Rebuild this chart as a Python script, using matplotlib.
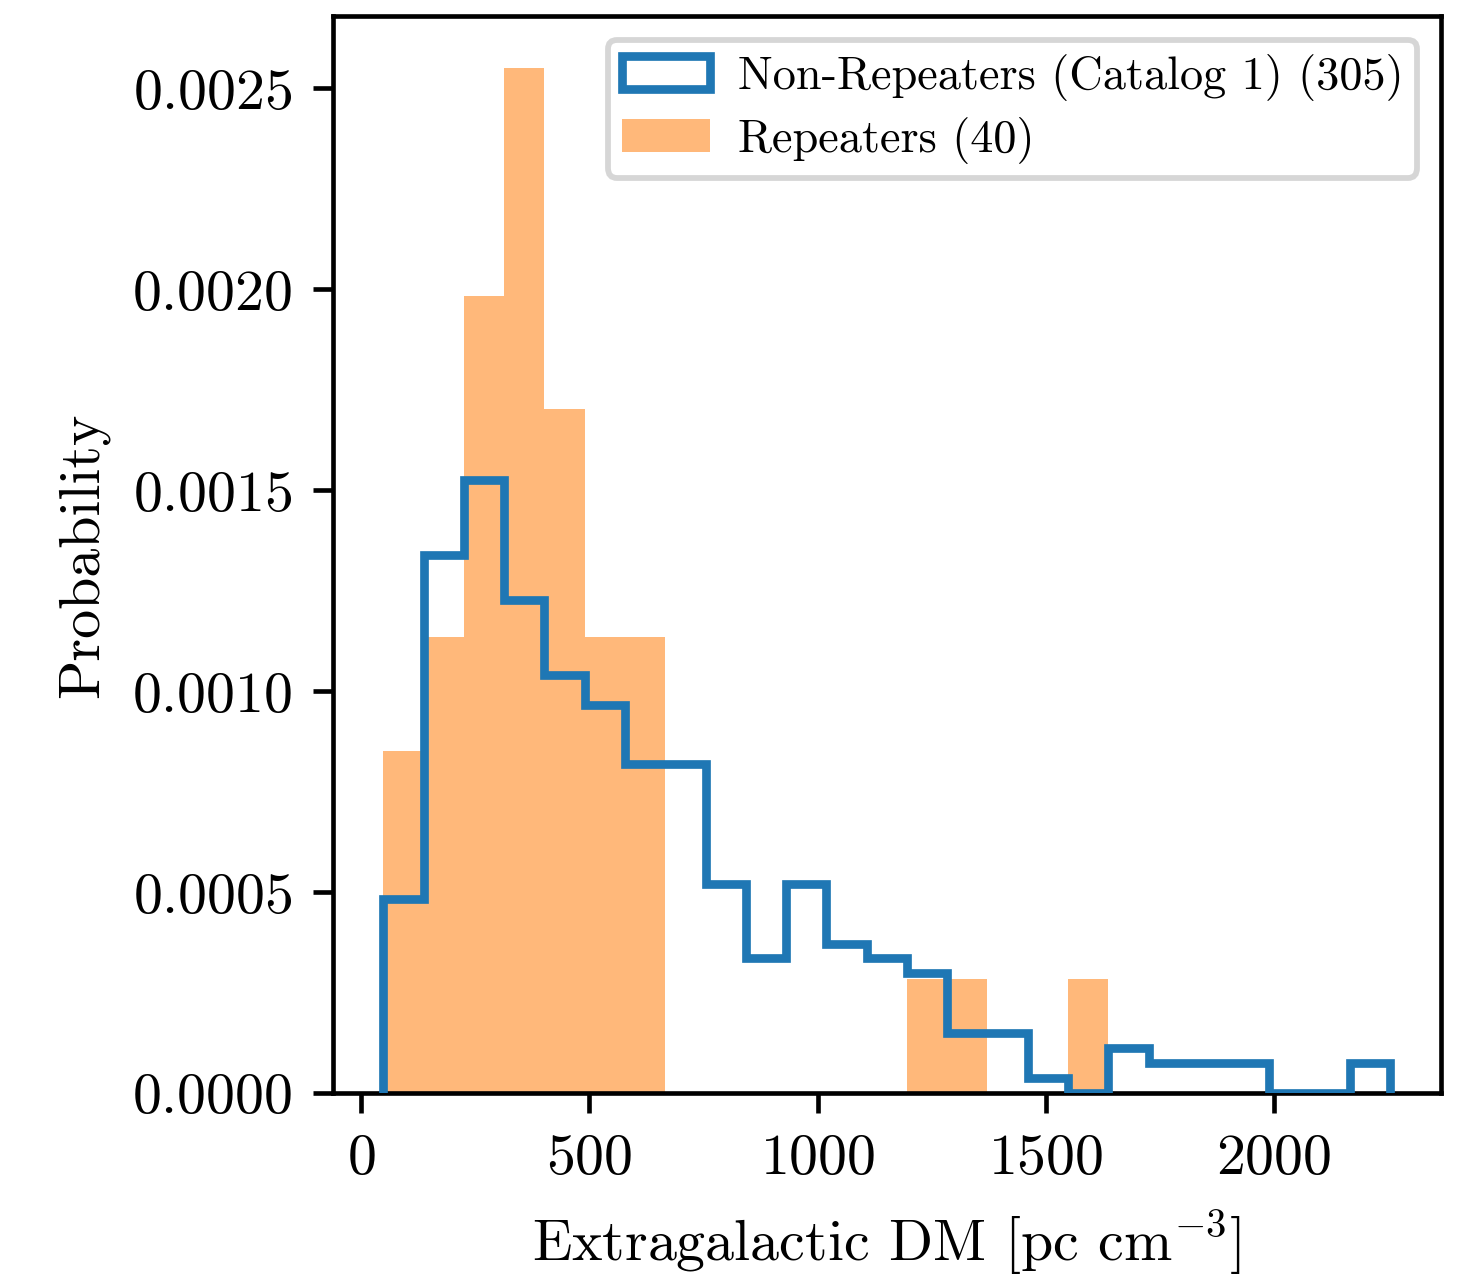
import numpy as np
import matplotlib
matplotlib.use("Agg")
import matplotlib.pyplot as plt

plt.rcParams["font.family"] = "serif"
plt.rcParams["font.serif"] = ["cmr10"]
plt.rcParams["mathtext.fontset"] = "cm"
plt.rcParams["axes.formatter.use_mathtext"] = True
plt.rcParams["font.size"] = 10

# Extragalactic DM histogram: shared bin range [pc cm^-3] and counts per bin
dm_min = 49.0
dm_max = 2254.0
n_bins = 25

non_repeater_counts = [13, 36, 41, 33, 28, 26, 22, 22, 14, 9, 14, 10, 9, 8,
                       4, 4, 1, 0, 3, 2, 2, 2, 0, 0, 2]
repeater_counts = [3, 4, 7, 9, 6, 4, 4, 0, 0, 0, 0, 0, 0, 1,
                   1, 0, 0, 1, 0, 0, 0, 0, 0, 0, 0]

non_repeater_label = "Non-Repeaters (Catalog 1) (305)"
repeater_label = "Repeaters (40)"

edges = np.linspace(dm_min, dm_max, n_bins + 1)
left = edges[:-1]

dpi = 417
fig = plt.figure(figsize=((1459 + 0.5) / dpi, (1277 + 0.5) / dpi), dpi=dpi)
ax = fig.add_subplot(111)
fig.subplots_adjust(left=0.2282, right=0.9870, bottom=0.1441, top=0.9867)

ax.hist(left, bins=edges, weights=non_repeater_counts, density=True,
        histtype="step", color="C0", linewidth=1.5, zorder=3,
        label=non_repeater_label)
ax.hist(left, bins=edges, weights=repeater_counts, density=True,
        histtype="stepfilled", color="C1", alpha=0.55, linewidth=0,
        zorder=2, label=repeater_label)

ax.set_xlabel(r"Extragalactic DM [pc cm$^{-3}$]")
ax.set_ylabel("Probability")
ax.set_xticks([0, 500, 1000, 1500, 2000])
ax.set_yticks([0.0, 0.0005, 0.0010, 0.0015, 0.0020, 0.0025])
ax.legend(loc="upper right", fontsize=8, labelspacing=0.35, borderpad=0.3,
          handlelength=1.9, handletextpad=0.6)

fig.savefig("out.png", dpi=dpi)
